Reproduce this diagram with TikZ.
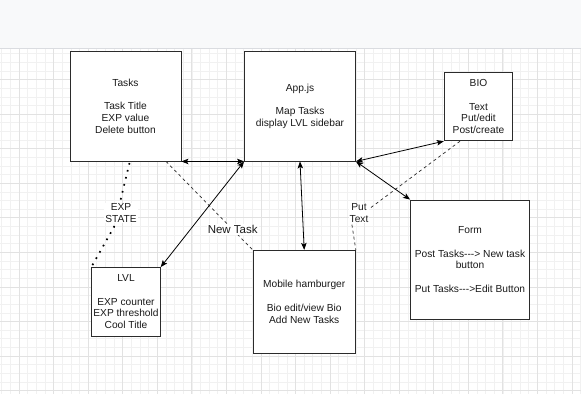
\documentclass[tikz,border=0pt]{standalone}
\usepackage{fontspec}
\setmainfont{Liberation Sans}
\usetikzlibrary{arrows.meta,calc}

\definecolor{bandfill}{HTML}{F8F9FA}
\definecolor{bandline}{HTML}{DADCE0}
\definecolor{gridminor}{HTML}{F1F1F1}
\definecolor{gridmajor}{HTML}{E2E2E2}
\definecolor{inktext}{HTML}{1A1A1A}
\definecolor{inkline}{HTML}{2B2B2B}

\tikzset{
  box/.style={draw=inkline, fill=white, line width=0.9pt, align=center,
    inner sep=0pt, text=inktext, font=\fontsize{10.2}{11.7}\selectfont},
  arr/.style={line width=0.8pt, draw=black,
    {Stealth[length=7pt,width=5.5pt,inset=1.6pt]}-{Stealth[length=7pt,width=5.5pt,inset=1.6pt]}},
  thindash/.style={line width=0.7pt, draw=inkline, dash pattern=on 3pt off 3pt},
  dotline/.style={line width=1.7pt, draw=black, dash pattern=on 1.7pt off 5.5pt},
  elabel/.style={fill=white, inner sep=1pt, align=center, text=inktext,
    font=\fontsize{10.2}{11.7}\selectfont},
}

\begin{document}
\begin{tikzpicture}[x=1pt,y=-1pt]
\useasboundingbox (0,0) rectangle (581,394);

% header band
\fill[bandfill] (0,0) rectangle (581,48.5);

% canvas grid
\fill[white] (0,48.5) rectangle (581,394);
\foreach \i in {0,...,67}
  \draw[gridminor, line width=0.6pt] ({1.72+\i*8.64},48.5) -- ({1.72+\i*8.64},394);
\foreach \j in {0,...,39}
  \draw[gridminor, line width=0.6pt] (0,{53.6+\j*8.64}) -- (581,{53.6+\j*8.64});
\foreach \i in {2,6,...,66}
  \draw[gridmajor, line width=0.7pt] ({1.72+\i*8.64},48.5) -- ({1.72+\i*8.64},394);
\foreach \j in {3,7,...,39}
  \draw[gridmajor, line width=0.7pt] (0,{53.6+\j*8.64}) -- (581,{53.6+\j*8.64});
\draw[bandline, line width=1pt] (0,48.5) -- (581,48.5);

% components
\node[box, minimum width=111pt, minimum height=110pt] (tasks) at (125.5,106)
  {Tasks\\[11.7pt]Task Title\\EXP value\\Delete button};
\node[box, minimum width=111pt, minimum height=110pt] (app) at (300,106)
  {App.js\\[11.7pt]Map Tasks\\display LVL sidebar};
\node[box, minimum width=68.5pt, minimum height=68.5pt] (bio) at (478.5,106.5)
  {BIO\\[11.7pt]Text\\Put/edit\\Post/create};
\node[box, minimum width=119pt, minimum height=119pt] (form) at (470,259.5)
  {Form\\[11.7pt]Post Tasks{-}{-}{-}> New task\\button\\[11.7pt]Put Tasks{-}{-}{-}>Edit Button};
\node[box, minimum width=68.5pt, minimum height=68.5pt] (lvl) at (126,301.8)
  {LVL\\[11.7pt]EXP counter\\EXP threshold\\Cool Title};
\node[box, minimum width=102.3pt, minimum height=103pt] (mobile) at (304.2,301.8)
  {Mobile hamburger\\[11.7pt]Bio edit/view Bio\\Add New Tasks};

% data links
\coordinate (expbend) at (114,227);
\draw[dotline] ($(tasks.south)+(4,1.5)$) -- (expbend) -- (lvl.north west);
\node[elabel] (explbl) at (121,213) {EXP\\STATE};

\draw[thindash] ($(tasks.south)+(40.5,0)$) -- (mobile.north west)
  node[pos=0.77, fill=white, inner sep=1pt, text=inktext,
       font=\fontsize{11.5}{13}\selectfont] (newlbl) {New Task};

\coordinate (putbend) at (351.5,222);
\draw[thindash] ($(bio.south)+(-18.5,0)$) -- (putbend) -- (mobile.north east);
\node[elabel] (putlbl) at (359,213) {Put\\Text};

% app connections
\draw[arr] (tasks.south east) -- (app.south west);
\draw[arr] (app.south west) -- (lvl.north east);
\draw[arr] (app.south) -- (mobile.north);
\draw[arr] (app.south east) -- (bio.south west);
\draw[arr] (app.south east) -- (form.north west);
\end{tikzpicture}
\end{document}
